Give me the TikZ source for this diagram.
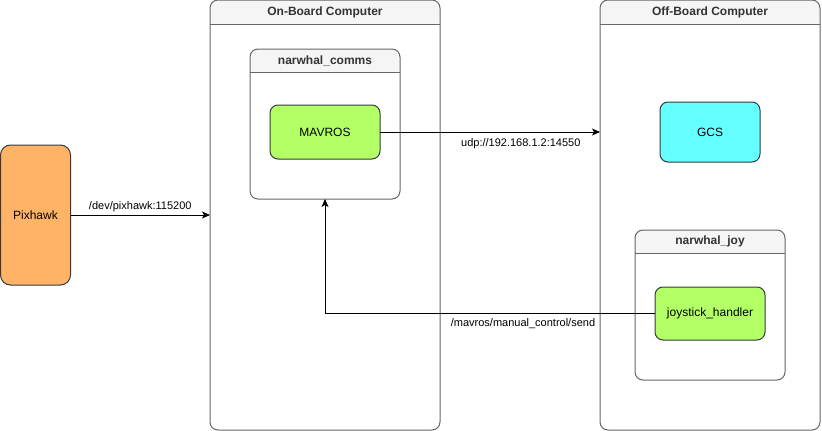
\documentclass[tikz,border=0pt]{standalone}
\usepackage{fontspec}
\setmainfont{Liberation Sans}
\usepackage{tikz}
\usetikzlibrary{positioning,arrows.meta}
\usepackage{xcolor}
\definecolor{pixorange}{HTML}{FFB366}
\definecolor{nodegreen}{HTML}{B3FF66}
\definecolor{gcscyan}{HTML}{66FFFF}
\definecolor{laneline}{HTML}{666666}
\definecolor{lanehead}{HTML}{F5F5F5}
\definecolor{lanetext}{HTML}{333333}
\definecolor{boxline}{HTML}{36393D}

\begin{document}
\begin{tikzpicture}[x=1pt,y=-1pt,>={Stealth[length=8pt,width=7pt,inset=2pt]},
  font=\fontsize{12}{14}\selectfont,
  lane/.style={draw=laneline,rounded corners=8pt,inner sep=0pt,outer sep=0pt,line width=1pt,
    path picture={\fill[lanehead,sharp corners] (path picture bounding box.north west) rectangle ([yshift=-#1]path picture bounding box.north east);
      \draw[laneline,line width=1pt] ([yshift=-#1]path picture bounding box.north west) -- ([yshift=-#1]path picture bounding box.north east);}},
  lanetitle/.style={font=\fontsize{12}{14}\selectfont\bfseries,text=lanetext},
  proc/.style={draw=boxline,rounded corners=8pt,line width=1pt,outer sep=0pt,minimum width=110pt,minimum height=54pt,fill=nodegreen},
  link/.style={->,line width=1pt},
  linklabel/.style={font=\fontsize{11}{13}\selectfont,inner sep=2pt}]
\useasboundingbox (0,0) rectangle (822,431);
% pixhawk
\node[draw=boxline,fill=pixorange,rounded corners=10pt,line width=1pt,outer sep=0pt,minimum width=70pt,minimum height=140pt] (pixhawk) at (35.5,215) {Pixhawk};
% on-board side
\node[lane=24pt,minimum width=230pt,minimum height=430pt] (obc) at (325,215) {};
\node[lanetitle] (obc-title) at (325,12) {On-Board Computer};
\node[lane=23pt,minimum width=150pt,minimum height=150pt] (comms) at (325,124) {};
\node[lanetitle] (comms-title) at (325,61) {narwhal\_comms};
\node[proc] (mavros) at (325,132) {MAVROS};
% off-board side
\node[lane=24pt,minimum width=220pt,minimum height=430pt] (offbc) at (710,215) {};
\node[lanetitle] (offbc-title) at (710,12) {Off-Board Computer};
\node[proc,fill=gcscyan,minimum width=100pt,minimum height=60pt] (gcs) at (710,132) {GCS};
\node[lane=23pt,minimum width=150pt,minimum height=150pt] (joy) at (710,305) {};
\node[lanetitle] (joy-title) at (710,241.5) {narwhal\_joy};
\node[proc,minimum height=53pt] (joystick) at (710,313.5) {joystick\_handler};
% links
\draw[link] (pixhawk) -- (obc) node[midway,above=1pt,linklabel] {/dev/pixhawk:115200};
\draw[link] (mavros) -- (mavros -| offbc.west) node[pos=.64,below=4pt,linklabel] {udp://192.168.1.2:14550};
\draw[link] (joystick) -| (comms) node[pos=.2,below=3pt,linklabel] {/mavros/manual\_control/send};
\end{tikzpicture}
\end{document}
